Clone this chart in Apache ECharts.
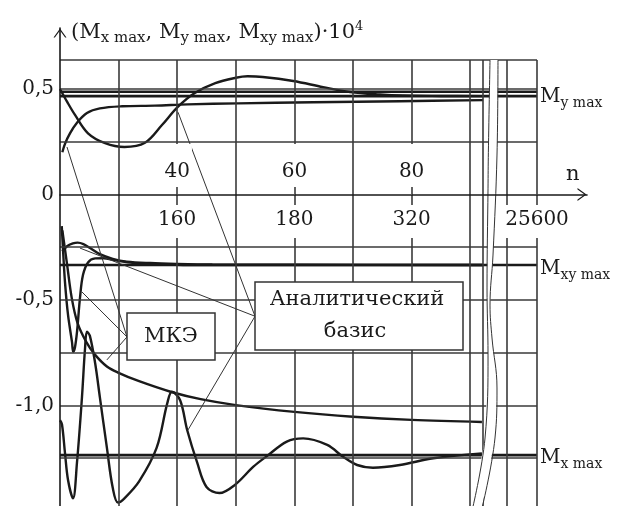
<!DOCTYPE html>
<html><head><meta charset="utf-8">
<script src="https://cdn.jsdelivr.net/npm/echarts@6/dist/echarts.min.js"></script>
<style>html,body{margin:0;padding:0;background:#fff}#c{width:623px;height:506px}</style>
</head><body><div id="c"></div>
<script>
// x is measured in columns of the (non-linear) n scale; one column per grid step
const xTickPos      = [2, 4, 6, 8.14];
const xTopLabels    = ['40', '60', '80', ''];
const xBottomLabels = ['160', '180', '320', '25600'];
const xGridPos      = [1, 2, 3, 4, 5, 6, 7, 7.22, 7.63, 8.14];
const yGridVals     = [0.637, 0.5, 0.25, -0.25, -0.5, -0.75, -1.0, -1.25];
const yTickVals     = [0.5, 0, -0.5, -1.0];
const yTickLabels   = ['0,5', '0', '-0,5', '-1,0'];

// M_y max
const myAnaX = [0, 0.12, 0.256, 0.478, 0.77, 1.1, 1.45, 1.74, 2.01, 2.3, 2.65, 3.0, 3.2, 3.46, 3.98, 4.49, 4.95, 5.46, 5.85, 6.5, 7.22];
const myAnaY = [0.50, 0.44, 0.377, 0.29, 0.243, 0.225, 0.245, 0.329, 0.415, 0.481, 0.528, 0.553, 0.56, 0.557, 0.538, 0.509, 0.486, 0.474, 0.469, 0.467, 0.466];
const myFemX = [0.04, 0.085, 0.17, 0.29, 0.46, 0.68, 1.06, 1.62, 2.18, 3.04, 4.32, 5.8, 7.22];
const myFemY = [0.2, 0.24, 0.29, 0.34, 0.386, 0.408, 0.418, 0.421, 0.427, 0.432, 0.437, 0.442, 0.447];
// M_xy max
const mxyAnaX = [0.04, 0.12, 0.22, 0.3, 0.4, 0.52, 0.68, 0.9, 1.14, 1.54, 2.0, 2.6, 4.0, 7.22];
const mxyAnaY = [-0.27, -0.245, -0.232, -0.228, -0.235, -0.255, -0.283, -0.305, -0.318, -0.325, -0.329, -0.332, -0.333, -0.334];
const mxyFemX = [0.03, 0.05, 0.085, 0.137, 0.205, 0.225, 0.255, 0.29, 0.341, 0.392, 0.478, 0.6, 0.75, 0.9, 1.2, 1.6, 2.1, 7.22];
const mxyFemY = [-0.15, -0.254, -0.415, -0.571, -0.70, -0.745, -0.725, -0.652, -0.49, -0.382, -0.322, -0.303, -0.302, -0.31, -0.323, -0.33, -0.334, -0.334];
// M_x max
const mxFemX = [0.04, 0.08, 0.12, 0.2, 0.3, 0.45, 0.6, 0.8, 1.0, 1.35, 1.9, 2.4, 3.0, 4.0, 5.0, 6.0, 7.2];
const mxFemY = [-0.17, -0.25, -0.33, -0.49, -0.61, -0.70, -0.76, -0.815, -0.845, -0.885, -0.936, -0.97, -0.998, -1.03, -1.053, -1.068, -1.078];
const mxAnaX = [0, 0.034, 0.085, 0.137, 0.222, 0.29, 0.375, 0.427, 0.46, 0.51, 0.6, 0.68, 0.8, 0.9, 0.99, 1.1, 1.35, 1.65, 1.83, 1.91, 2.05, 2.17, 2.34, 2.5, 2.72, 2.99, 3.3, 3.53, 3.87, 4.15, 4.56, 4.83, 5.07, 5.34, 5.8, 6.37, 7.2];
const mxAnaY = [-1.07, -1.09, -1.225, -1.353, -1.44, -1.27, -0.96, -0.73, -0.65, -0.67, -0.8, -0.96, -1.2, -1.39, -1.46, -1.44, -1.36, -1.2, -0.99, -0.935, -0.975, -1.116, -1.27, -1.386, -1.415, -1.375, -1.29, -1.24, -1.171, -1.156, -1.187, -1.243, -1.282, -1.295, -1.282, -1.25, -1.227];
// limiting values (thick lines)
const myLimits  = [0.487, 0.466];
const mxyLimits = [-0.334];
const mxLimits  = [-1.235];

// axis break (two wavy lines)
const breakLeft  = [[7.338, 0.637], [7.31, 0.2], [7.304, 0.03], [7.287, -0.443], [7.304, -0.761], [7.253, -1.154], [7.03, -1.5]];
const breakRight = [[7.474, 0.637], [7.457, 0.187], [7.389, -0.287], [7.338, -0.524], [7.372, -0.68], [7.457, -0.917], [7.423, -1.154], [7.19, -1.5]];

// leader lines of the two callouts
const femHub = [1.143, -0.675];
const femTargets = [[0.119, 0.225], [0.375, -0.462], [0.80, -0.784]];
const anaHub = [3.328, -0.577];
const anaTargets = [[2.014, 0.39], [0.341, -0.254], [2.184, -1.116]];

const U_MAX = 8.993, V_MIN = -1.5, V_MAX = 0.789, X_END = 8.14, V_TOP = 0.637;
const F = 'DejaVu Serif';
const ink = '#1a1a1a';
const gridInk = '#3a3a3a';
const ARROW = 'path://M0,9 L6.5,0 L13,9 L11.6,9 L6.5,2 L1.4,9 Z';

function pairs(xs, ys) { return xs.map((x, i) => [x, ys[i]]); }
function labelAt(v, pos, labels) {
  for (let i = 0; i < pos.length; i++) if (Math.abs(v - pos[i]) < 1e-6) return labels[i] || '';
  return '';
}
function richFor(main, sub) {
  return {
    p: { fontFamily: F, fontSize: main, fontWeight: 'normal', color: ink, lineHeight: 26 },
    s: { fontFamily: F, fontSize: sub, fontWeight: 'normal', color: ink, lineHeight: 22, verticalAlign: 'bottom' },
    u: { fontFamily: F, fontSize: 13, fontWeight: 'normal', color: ink, lineHeight: 13, verticalAlign: 'top' }
  };
}

const gridMarks = [];
xGridPos.forEach(x => gridMarks.push([{ coord: [x, V_TOP] }, { coord: [x, V_MIN] }]));
yGridVals.forEach(y => gridMarks.push([{ coord: [0, y] }, { coord: [X_END, y] }]));

const leaderMarks = [];
femTargets.forEach(t => leaderMarks.push([{ coord: t }, { coord: femHub }]));
anaTargets.forEach(t => leaderMarks.push([{ coord: t }, { coord: anaHub }]));

function curve(xs, ys) {
  return { type: 'line', data: pairs(xs, ys), showSymbol: false, smooth: 0.35, silent: true,
    lineStyle: { color: ink, width: 2.4 }, z: 3 };
}
function limit(v, label, dy) {
  const s = { type: 'line', data: [[0, v], [X_END, v]], showSymbol: false, silent: true,
    lineStyle: { color: ink, width: 2.6 }, z: 3 };
  if (label) s.endLabel = { show: true, formatter: label, distance: 3, offset: [0, dy], rich: richFor(20, 14) };
  return s;
}
function tickLabels(labels, pos, dist, pad) {
  return { type: 'scatter', silent: true, z: 8, symbolSize: 1,
    itemStyle: { color: '#fff', opacity: 1 },
    data: xTickPos.map((x, i) => ({ value: [x, 0], label: { show: !!labels[i], formatter: labels[i] } })),
    label: { show: true, position: pos, distance: dist, fontFamily: F, fontSize: 20, color: ink, opacity: 1,
      lineHeight: 20, backgroundColor: '#fff', padding: pad } };
}

const series = [
  { type: 'line', data: [], silent: true, z: 1,
    markLine: { silent: true, symbol: ['none', 'none'], label: { show: false }, animation: false,
      lineStyle: { color: gridInk, width: 1.6, type: 'solid' }, data: gridMarks } },
  curve(myAnaX, myAnaY), curve(myFemX, myFemY),
  curve(mxyAnaX, mxyAnaY), curve(mxyFemX, mxyFemY),
  curve(mxFemX, mxFemY), curve(mxAnaX, mxAnaY),
  limit(myLimits[0]), limit(myLimits[1], '{p|M}{s|y max}', 1),
  limit(mxyLimits[0], '{p|M}{s|xy max}', 4),
  limit(mxLimits[0], '{p|M}{s|x max}', 3),
  { type: 'line', data: [], silent: true, z: 4,
    markLine: { silent: true, symbol: ['none', 'none'], label: { show: false }, animation: false,
      lineStyle: { color: '#333', width: 1, type: 'solid' }, data: leaderMarks } },
  { type: 'custom', silent: true, z: 5, data: [[0, 0]],
    renderItem: function (params, api) {
      const pts = breakLeft.map(p => api.coord(p)).concat(breakRight.slice().reverse().map(p => api.coord(p)));
      return { type: 'polygon', shape: { points: pts }, style: { fill: '#fff' } };
    } },
  { type: 'line', data: breakLeft, showSymbol: false, smooth: 0.4, silent: true, z: 6, lineStyle: { color: '#333', width: 1 } },
  { type: 'line', data: breakRight, showSymbol: false, smooth: 0.4, silent: true, z: 6, lineStyle: { color: '#333', width: 1 } },
  tickLabels(xTopLabels, 'top', 7, [18, 2, 5, 2]),
  tickLabels(xBottomLabels, 'bottom', 10, [5, 2, 8, 2])
];

const chart = echarts.init(document.getElementById('c'));
chart.setOption({
  animation: false,
  backgroundColor: '#fff',
  title: { left: 71, top: 20, padding: 0,
    text: '{p|(M}{s|x max}{p|, M}{s|y max}{p|, M}{s|xy max}{p|)·10}{u|4}',
    textStyle: { fontWeight: 'normal', rich: richFor(21, 15) } },
  grid: { left: 60, top: 28, right: 36, bottom: -5, containLabel: false, outerBoundsMode: 'none' },
  xAxis: { type: 'value', min: 0, max: U_MAX, z: 10,
    axisLine: { show: true, onZero: true, lineStyle: { color: ink, width: 1.6 },
      symbol: ['none', ARROW], symbolSize: [13, 10], symbolOffset: [0, -5] },
    axisTick: { show: false }, splitLine: { show: false }, axisLabel: { show: false } },
  yAxis: { type: 'value', min: V_MIN, max: V_MAX, z: 10,
    axisLine: { show: true, onZero: true, lineStyle: { color: ink, width: 1.6 },
      symbol: ['none', ARROW], symbolSize: [13, 10], symbolOffset: [0, -5] },
    axisTick: { show: false }, splitLine: { show: false },
    axisLabel: { customValues: yTickVals, formatter: v => labelAt(v, yTickVals, yTickLabels),
      fontFamily: F, fontSize: 20, color: ink, margin: 6 } },
  graphic: [
    { type: 'rect', z: 100, shape: { x: 127, y: 313, width: 88, height: 47 }, style: { fill: '#fff', stroke: '#333', lineWidth: 1.5 } },
    { type: 'text', z: 101, x: 171, y: 337, style: { text: 'МКЭ', font: '21px "DejaVu Serif"', fill: ink, align: 'center', verticalAlign: 'middle' } },
    { type: 'rect', z: 100, shape: { x: 255, y: 282, width: 208, height: 68 }, style: { fill: '#fff', stroke: '#333', lineWidth: 1.5 } },
    { type: 'text', z: 101, x: 357, y: 300, style: { text: 'Аналитический', font: '21px "DejaVu Serif"', fill: ink, align: 'center', verticalAlign: 'middle' } },
    { type: 'text', z: 101, x: 355, y: 332, style: { text: 'базис', font: '21px "DejaVu Serif"', fill: ink, align: 'center', verticalAlign: 'middle' } },
    { type: 'text', z: 101, x: 566, y: 175, style: { text: 'n', font: '21px "DejaVu Serif"', fill: ink, align: 'left', verticalAlign: 'middle' } }
  ],
  series: series
});
</script></body></html>
